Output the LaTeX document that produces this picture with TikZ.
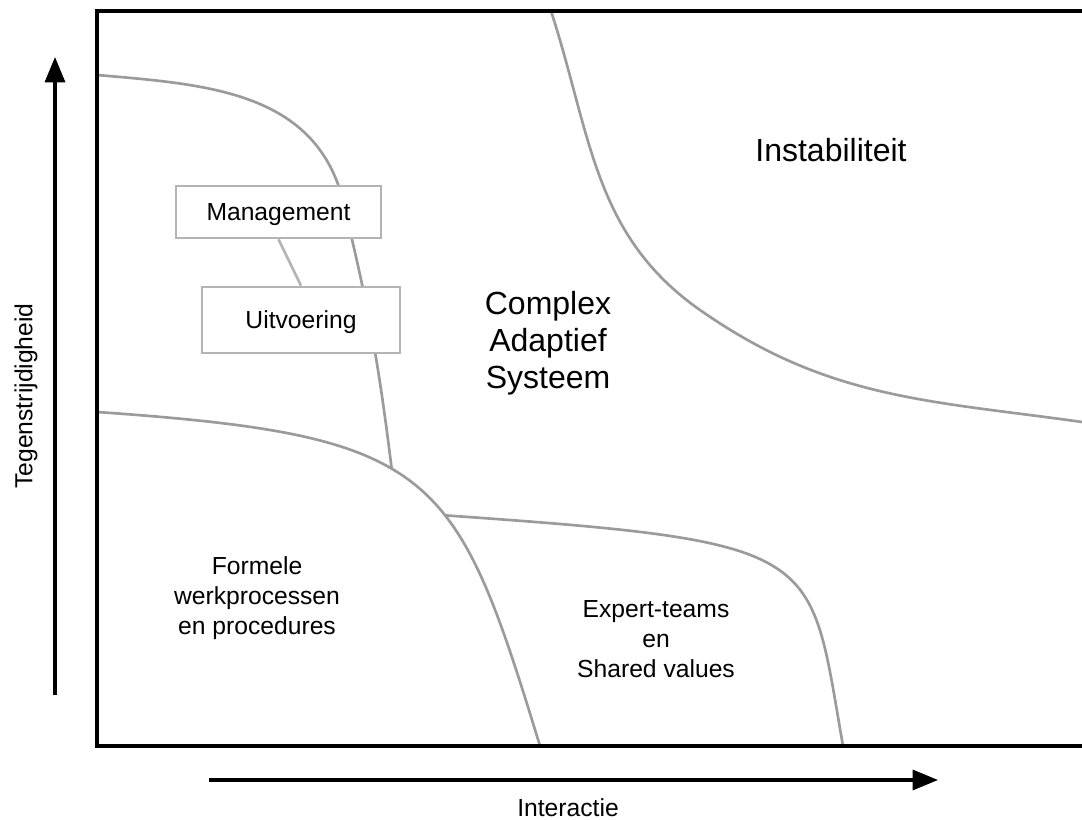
\documentclass[tikz,border=0pt]{standalone}
\usepackage{fontspec}
\setmainfont{Liberation Sans}
\usetikzlibrary{arrows.meta}
\definecolor{edge_grey}{RGB}{155, 155, 155}
\definecolor{box_grey}{RGB}{180, 180, 180}
\tikzstyle{none}=[inner sep=0pt]
\tikzstyle{frame}=[draw=black,line width=3.2pt]
\tikzstyle{axis}=[draw=black,line width=2.4pt,-{Triangle[length=19pt,width=15pt]}]
\tikzstyle{border}=[draw=edge_grey,line width=2pt]
\tikzstyle{box}=[rectangle,fill=white,draw=box_grey,line width=2pt,inner sep=0pt,text depth=0pt]
\tikzstyle{txt}=[align=center,font=\fontsize{18.5}{22.5}\selectfont]
\tikzstyle{bigtxt}=[align=center,font=\fontsize{24}{27.75}\selectfont]

\begin{document}
\begin{tikzpicture}[x=0.75pt,y=0.75pt]
            \useasboundingbox (0, 0) rectangle (1082, 820);
            \node [style=none] (0) at (97, 745) {};
            \node [style=none] (1) at (340, 630) {};
            \node [style=none] (3) at (97, 408) {};
            \node [style=none] (5) at (540, 74) {};
            \node [style=none] (8) at (843, 74) {};
            \node [style=none] (9) at (551, 809) {};
            \node [style=none] (10) at (700, 510) {};
            \node [style=none] (11) at (1082, 398) {};
            \node [style=none] (12) at (1090, 809) {};
            \node [style=none] (13) at (97, 809) {};
            \node [style=none] (14) at (97, 74) {};
            \node [style=none] (15) at (1090, 74) {};
            \node [style=none] (16) at (55, 125) {};
            \node [style=none] (17) at (55, 763) {};
            \node [style=none] (18) at (209, 40) {};
            \node [style=none] (19) at (938, 40) {};
            \draw [style=border, out=-4, in=107, out looseness=1.57, in looseness=1.34] (3.center) to
                node [style=none, pos=0.44] (2) {}
                node [style=none, pos=0.6] (4) {} (5.center);
            \draw [style=border, out=-5, in=108] (0.center) to (1.center);
            \draw [style=border, out=-76, in=97] (1.center) to (2.center);
            \draw [style=border, out=-4, in=100, out looseness=2.14, in looseness=1.11] (4.center) to (8.center);
            \draw [style=border, out=-72, in=145] (9.center) to (10.center);
            \draw [style=border, out=-35, in=172] (10.center) to (11.center);
            \draw [style=frame] (12.center) to (13.center) to (14.center) to (15.center);
            \draw [style=axis] (16.center) to (17.center);
            \draw [style=axis] (18.center) to (19.center);
            \node [style=box, minimum width=153.75pt, minimum height=39pt, txt] (20) at (278.5, 608) {Management};
            \node [style=box, minimum width=148.5pt, minimum height=49.5pt, txt] (21) at (301, 500) {Uitvoering};
            \draw [style=border, draw=box_grey] (20.south) to (21.north);
            \node [style=bigtxt] (22) at (831, 670) {Instabiliteit};
            \node [style=bigtxt] (23) at (548, 477) {Complex\\Adaptief\\Systeem};
            \node [style=txt] (24) at (257, 222) {Formele\\werkprocessen\\en procedures};
            \node [style=txt] (25) at (656, 181) {Expert-teams\\en\\Shared values};
            \node [style=txt, rotate=90] (26) at (26, 424) {Tegenstrijdigheid};
            \node [style=txt] (27) at (568, 12) {Interactie};
    \end{tikzpicture}
\end{document}
